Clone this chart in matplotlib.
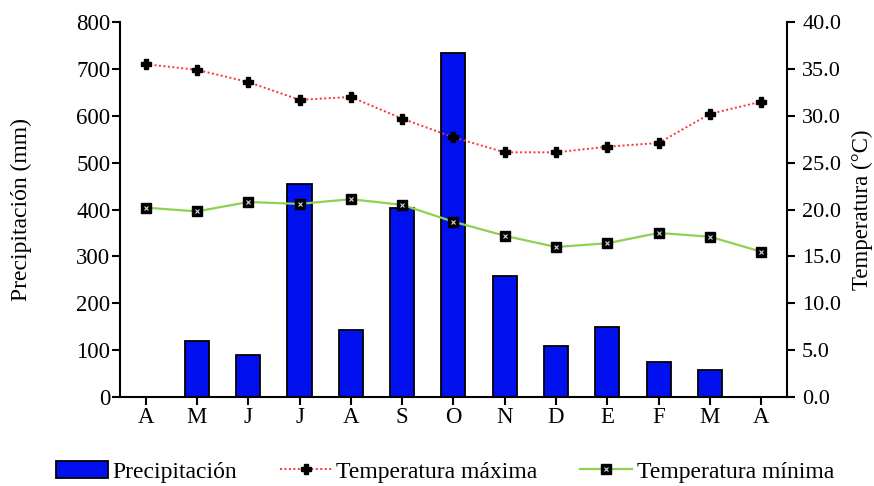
import matplotlib.pyplot as plt
import numpy as np

plt.rcParams['font.family'] = ['Liberation Serif', 'DejaVu Serif']

# monthly climate data (April to April)
months = ["A", "M", "J", "J", "A", "S", "O", "N", "D", "E", "F", "M", "A"]
precip = [0, 119, 89, 455, 143, 403, 733, 258, 109, 149, 75, 57, 0]
t_max = [35.5, 34.9, 33.6, 31.7, 32.0, 29.7, 27.7, 26.1, 26.1, 26.7, 27.1, 30.2, 31.5]
t_min = [20.2, 19.8, 20.8, 20.6, 21.1, 20.5, 18.7, 17.2, 16.0, 16.4, 17.5, 17.1, 15.5]

x = np.arange(len(months))

fig = plt.figure(figsize=(8.74, 4.86), dpi=100)
ax = fig.add_axes([0.1373, 0.1831, 0.763, 0.7716])
ax2 = ax.twinx()

bars = ax.bar(x, precip, width=0.47, color="#0010ee", edgecolor="black", linewidth=1.3, zorder=2)
ax.set_xlim(-0.5, len(months) - 0.5)
ax.set_ylim(0, 800)
ax.set_yticks(np.arange(0, 801, 100))
ax.set_xticks(x)
ax.set_xticklabels(months)
ax.set_ylabel("Precipitación (mm)", fontsize=17)
ax.yaxis.set_label_coords(-0.132, 0.5)

lmax, = ax2.plot(x, t_max, color="#ff3030", linestyle=(0, (1, 1.3)), linewidth=1.4,
                 marker="P", markersize=7, markerfacecolor="black", markeredgecolor="black", zorder=3)
lmin, = ax2.plot(x, t_min, color="#8fd050", linewidth=1.6,
                 marker="s", markersize=6.5, markerfacecolor="black", markeredgecolor="black", zorder=3)
lmin_x, = ax2.plot(x, t_min, linestyle="none", marker="x", markersize=3.5,
                   markeredgecolor="#dddddd", markeredgewidth=0.8, zorder=4)
ax2.set_ylim(0, 40)
ax2.set_yticks(np.arange(0, 40.1, 5))
ax2.set_yticklabels([f"{v:.1f}" for v in np.arange(0, 40.1, 5)])
ax2.set_ylabel("Temperatura (°C)", fontsize=16.5)
ax2.yaxis.set_label_coords(1.098, 0.5)

for a in (ax, ax2):
    a.spines["top"].set_visible(False)
    for s in ("left", "right", "bottom"):
        a.spines[s].set_linewidth(1.5)
    a.tick_params(labelsize=16.5, width=1.5, length=6, direction="out")
ax.tick_params(axis="y", pad=1)
ax.tick_params(axis="x", pad=1)
ax2.tick_params(axis="y", pad=5, labelsize=16)
ax2.spines["left"].set_visible(False)
ax.spines["right"].set_visible(False)
ax2.spines["bottom"].set_visible(False)

fig.legend([bars, lmax, (lmin, lmin_x)],
           ["Precipitación", "Temperatura máxima", "Temperatura mínima"],
           loc="center", bbox_to_anchor=(0.509, 0.029), ncol=3, frameon=False,
           fontsize=17, handlelength=2.2, columnspacing=1.8, handletextpad=0.2)

fig.savefig("out.png", dpi=100)
